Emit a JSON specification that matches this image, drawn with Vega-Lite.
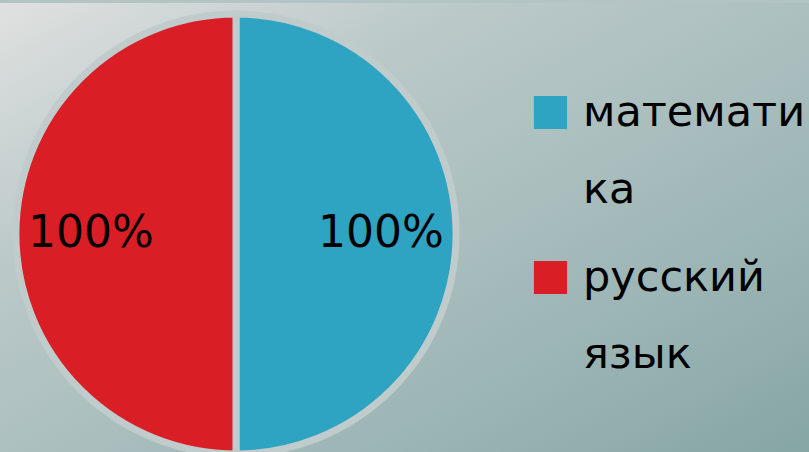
{
  "$schema": "https://vega.github.io/schema/vega-lite/v6.json",
  "padding": 0,
  "spacing": 0,
  "background": "#b3c4c4",
  "config": {
    "view": {"stroke": null},
    "concat": {"spacing": 0},
    "style": {"guide-label": {"lineHeight": 77}}
  },
  "datasets": {
    "shares": [
      {"subject": "математика", "share": 50, "label": "100%"},
      {"subject": "русский язык", "share": 50, "label": "100%"}
    ],
    "bg": [{"name": "background"}]
  },
  "hconcat": [
    {
      "width": 472,
      "height": 462,
      "layer": [
        {
          "data": {"name": "bg"},
          "mark": {
            "type": "rect",
            "fill": {
              "gradient": "linear",
              "x1": 0, "y1": 0, "x2": 0.8426, "y2": 1.476,
              "stops": [
                {"offset": 0, "color": "#dfe1e0"},
                {"offset": 0.3, "color": "#bac8c8"},
                {"offset": 0.5, "color": "#adc0c0"},
                {"offset": 0.78, "color": "#98b2b2"},
                {"offset": 1, "color": "#86a5a5"}
              ]
            }
          },
          "encoding": {}
        },
        {
          "data": {"name": "shares"},
          "mark": {"type": "arc", "outerRadius": 220, "stroke": "#c0cbcb", "strokeWidth": 7},
          "encoding": {
            "theta": {"field": "share", "type": "quantitative", "stack": true},
            "order": {"field": "subject", "sort": "ascending"},
            "color": {
              "field": "subject",
              "type": "nominal",
              "scale": {"domain": ["математика", "русский язык"], "range": ["#2ea3c2", "#d91e26"]},
              "legend": {
                "title": null,
                "orient": "none",
                "legendX": 529,
                "legendY": 88,
                "symbolType": "square",
                "symbolSize": 1100,
                "symbolStrokeWidth": 0,
                "labelFont": "DejaVu Sans",
                "labelFontSize": 43,
                "labelColor": "#000000",
                "labelOffset": 11,
                "labelLimit": 400,
                "rowPadding": 44,
                "labelExpr": "datum.value == 'математика' ? ['математи', 'ка'] : ['русский', 'язык']"
              }
            }
          }
        },
        {
          "data": {"name": "shares"},
          "mark": {"type": "text", "radius": 145, "font": "DejaVu Sans", "fontSize": 44, "color": "#000000"},
          "encoding": {
            "theta": {"field": "share", "type": "quantitative", "stack": true},
            "order": {"field": "subject", "sort": "ascending"},
            "text": {"field": "label"}
          }
        }
      ]
    },
    {
      "width": 337,
      "height": 462,
      "data": {"name": "bg"},
      "mark": {
        "type": "rect",
        "fill": {
          "gradient": "linear",
          "x1": -1.4, "y1": 0, "x2": -0.716, "y2": 1.678,
          "stops": [
            {"offset": 0, "color": "#dfe1e0"},
            {"offset": 0.3, "color": "#bac8c8"},
            {"offset": 0.5, "color": "#adc0c0"},
            {"offset": 0.78, "color": "#98b2b2"},
            {"offset": 1, "color": "#86a5a5"}
          ]
        }
      },
      "encoding": {}
    }
  ]
}
